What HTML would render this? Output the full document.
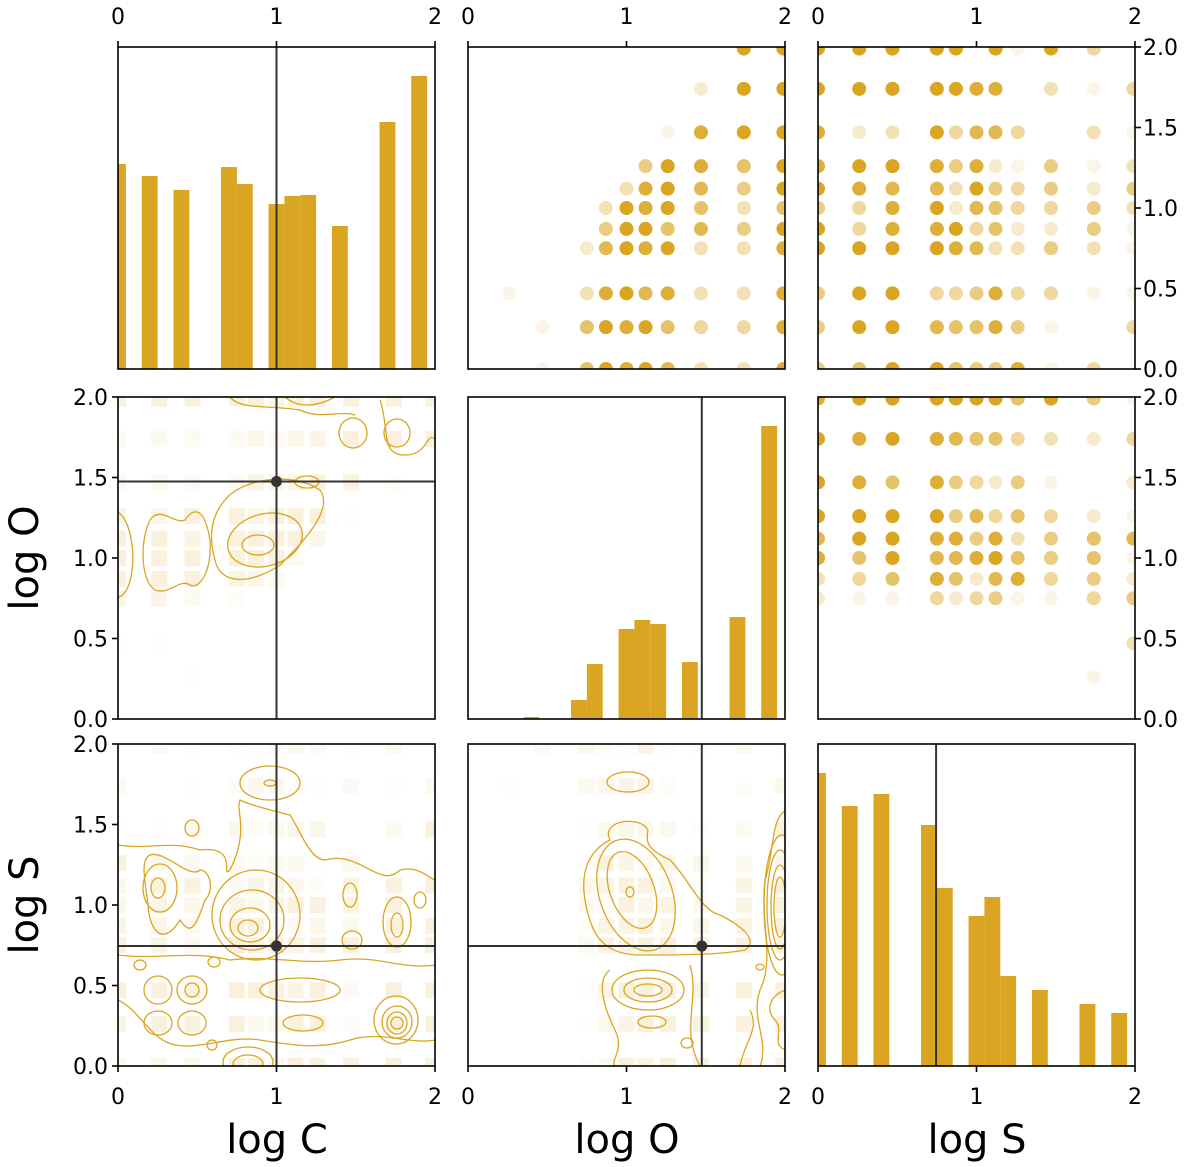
<!DOCTYPE html>
<html><head><meta charset="utf-8">
<style>
html,body{margin:0;padding:0;background:#fff;}
svg{display:block;font-family:"DejaVu Sans","Liberation Sans",sans-serif;}
</style></head>
<body>
<svg id="chart" width="1200" height="1167" viewBox="0 0 1200 1167" xmlns="http://www.w3.org/2000/svg">
<defs>
  <clipPath id="clip-contour">
    <rect x="118" y="397" width="317" height="322"/>
    <rect x="118" y="744" width="317" height="322"/>
    <rect x="468" y="744" width="317" height="322"/>
  </clipPath>
</defs>
<g id="layer-heat"></g>
<g id="layer-contour" fill="none" stroke="#DAA520" stroke-width="1.3" clip-path="url(#clip-contour)">
  <ellipse cx="258" cy="545" rx="16" ry="10"/>
  <ellipse cx="265" cy="540" rx="38" ry="26" transform="rotate(-15 265 540)"/>
  <path d="M225,500 C240,480 290,470 320,490 C335,510 300,545 280,565 C250,585 220,585 215,560 C208,535 212,515 225,500 Z"/>
  <path d="M150,520 C160,505 175,525 185,520 C195,505 205,510 210,540 C212,570 200,590 190,585 C180,578 170,595 155,590 C140,580 140,540 150,520 Z"/>
  <path d="M118,512 C130,520 135,550 132,570 C130,590 122,597 118,597"/>
  <ellipse cx="307" cy="482" rx="12" ry="6"/>
  <path d="M230,397 C240,410 270,405 300,410 C320,420 340,410 355,415"/>
  <path d="M285,397 C300,410 320,405 335,397"/>
  <ellipse cx="353" cy="433" rx="14" ry="15"/>
  <ellipse cx="397" cy="433" rx="13" ry="14"/>
  <path d="M380,400 C390,430 380,455 405,455 C430,455 425,430 436,440"/>
  <ellipse cx="248" cy="928" rx="10" ry="8"/>
  <ellipse cx="250" cy="925" rx="20" ry="17"/>
  <ellipse cx="252" cy="920" rx="32" ry="30"/>
  <ellipse cx="256" cy="915" rx="44" ry="45"/>
  <ellipse cx="158" cy="888" rx="7" ry="10"/>
  <ellipse cx="160" cy="888" rx="17" ry="24"/>
  <path d="M150,855 C165,850 190,880 200,870 C210,870 215,890 205,900 C195,930 190,935 180,920 C165,945 150,935 148,905 C145,880 140,860 150,855 Z"/>
  <path d="M118,845 C150,850 170,840 200,850 C240,845 220,880 230,870 C250,830 235,810 240,800 C250,805 270,810 290,815 C300,830 310,860 325,860 C360,850 380,890 400,870 C420,865 430,880 436,880"/>
  <ellipse cx="397" cy="925" rx="6" ry="12"/>
  <ellipse cx="397" cy="922" rx="14" ry="25"/>
  <ellipse cx="397" cy="1023" rx="6" ry="6"/>
  <ellipse cx="397" cy="1023" rx="10" ry="11"/>
  <ellipse cx="397" cy="1022" rx="15" ry="16"/>
  <ellipse cx="396" cy="1020" rx="22" ry="24"/>
  <ellipse cx="270" cy="783" rx="30" ry="17"/>
  <ellipse cx="270" cy="783" rx="6" ry="3"/>
  <ellipse cx="192" cy="828" rx="7" ry="8"/>
  <ellipse cx="192" cy="990" rx="7" ry="7"/>
  <ellipse cx="192" cy="990" rx="15" ry="14"/>
  <ellipse cx="158" cy="990" rx="14" ry="14"/>
  <ellipse cx="158" cy="1023" rx="14" ry="12"/>
  <ellipse cx="192" cy="1023" rx="14" ry="12"/>
  <ellipse cx="248" cy="1062" rx="25" ry="15"/>
  <ellipse cx="248" cy="1064" rx="15" ry="9"/>
  <ellipse cx="300" cy="990" rx="40" ry="12"/>
  <ellipse cx="303" cy="1023" rx="20" ry="8"/>
  <ellipse cx="350" cy="895" rx="7" ry="12"/>
  <ellipse cx="352" cy="940" rx="10" ry="9"/>
  <ellipse cx="420" cy="900" rx="6" ry="8"/>
  <ellipse cx="140" cy="965" rx="6" ry="5"/>
  <ellipse cx="214" cy="962" rx="6" ry="5"/>
  <ellipse cx="212" cy="1045" rx="5" ry="5"/>
  <path d="M118,1000 C140,1010 150,1040 175,1045 C200,1050 230,1035 260,1040 C290,1045 320,1050 350,1040 C380,1030 410,1045 436,1040"/>
  <path d="M118,955 C160,960 190,950 230,960 C270,955 300,965 340,960 C380,955 400,970 436,965"/>
  <ellipse cx="628" cy="782" rx="21" ry="10"/>
  <ellipse cx="630" cy="892" rx="4" ry="5"/>
  <ellipse cx="632" cy="890" rx="22" ry="40" transform="rotate(-20 632 890)"/>
  <ellipse cx="636" cy="895" rx="36" ry="58" transform="rotate(-20 636 895)"/>
  <path d="M610,840 C600,820 640,815 648,830 C645,845 650,850 670,860 C690,880 700,910 720,915 C740,925 760,940 745,950 C720,955 680,955 640,955 C600,955 590,930 585,900 C580,870 590,850 610,840 Z"/>
  <ellipse cx="648" cy="990" rx="14" ry="6"/>
  <ellipse cx="648" cy="990" rx="24" ry="12"/>
  <ellipse cx="648" cy="990" rx="36" ry="20"/>
  <ellipse cx="652" cy="1022" rx="14" ry="6"/>
  <path d="M610,970 C595,980 605,1010 615,1030 C625,1050 610,1060 615,1066"/>
  <path d="M690,965 C700,1000 680,1030 700,1066"/>
  <ellipse cx="687" cy="1043" rx="6" ry="5"/>
  <ellipse cx="760" cy="967" rx="4" ry="3"/>
  <ellipse cx="780" cy="907" rx="6" ry="30"/>
  <ellipse cx="780" cy="907" rx="9" ry="42"/>
  <ellipse cx="780" cy="905" rx="13" ry="55"/>
  <ellipse cx="782" cy="905" rx="18" ry="70"/>
  <path d="M786,810 C770,820 775,850 765,880 C760,920 775,960 760,990 C750,1020 770,1040 760,1066"/>
  <path d="M786,990 C770,995 765,1010 775,1020 C785,1030 770,1045 786,1050"/>
  <path d="M740,1066 C745,1040 760,1030 750,1010"/>
</g>
<g id="layer-marks"></g>
<g id="layer-axes"></g>
</svg>
<script>
// ---- data ----
const gridVals = [0, 0.26, 0.47, 0.75, 0.87, 1.0, 1.12, 1.26, 1.47, 1.74, 1.99];
const scatterOvsC = ["00000000099","00000000299","00000001899","00000059869","00000389759","00003989636","00005996759","00027989338","01038978338","00169896448","00169897338"];
const scatterSvsC = ["99999091940","99999880314","82394774031","89985821513","98773954525","54892764453","94889462251","99998733531","59944584411","59976685104","56996558140"];
const scatterSvsO = ["89999996951","98987664324","98685425102","99995746421","79988583567","86977896561","34686278452","21142451145","00000000003","00000000010","00000000000"];
const histCLeft = [0, 0.15, 0.35, 0.65, 0.75, 0.95, 1.05, 1.15, 1.35, 1.65, 1.85];
const histCWidth = [0.05, 0.1, 0.1, 0.1, 0.1, 0.1, 0.1, 0.1, 0.1, 0.1, 0.1];
const histCCount = [205, 193, 179, 202, 185, 165, 173, 174, 143, 247, 293];
const histOLeft = [0.35, 0.65, 0.75, 0.95, 1.05, 1.15, 1.35, 1.65, 1.85];
const histOWidth = [0.1, 0.1, 0.1, 0.1, 0.1, 0.1, 0.1, 0.1, 0.1];
const histOCount = [2, 19, 55, 90, 99, 95, 57, 102, 293];
const histSLeft = [0, 0.15, 0.35, 0.65, 0.75, 0.95, 1.05, 1.15, 1.35, 1.65, 1.85];
const histSWidth = [0.05, 0.1, 0.1, 0.1, 0.1, 0.1, 0.1, 0.1, 0.1, 0.1, 0.1];
const histSCount = [293, 260, 272, 241, 178, 150, 169, 90, 76, 62, 53];
const histMax = 322;
const bestC = 1.0, bestO = 1.475, bestS = 0.745;
const xTicks = [0, 1, 2];
const yTicks = [0, 0.5, 1.0, 1.5, 2.0];
const yTickLabels = ["0.0", "0.5", "1.0", "1.5", "2.0"];

// ---- layout ----
const NS = "http://www.w3.org/2000/svg";
const colX = [118, 468, 818], rowY = [47, 397, 744], PW = 317, PH = 322;
const COLOR = "#DAA520";
function sx(c, v) { return colX[c] + v / 2 * PW; }
function sy(r, v) { return rowY[r] + PH - v / 2 * PH; }
function mk(tag, attrs, parent) {
  const e = document.createElementNS(NS, tag);
  for (const k in attrs) e.setAttribute(k, attrs[k]);
  parent.appendChild(e);
  return e;
}
const svg = document.getElementById('chart');
const defs = svg.querySelector('defs');
const heat = document.getElementById('layer-heat');
const marks = document.getElementById('layer-marks');
const axes = document.getElementById('layer-axes');

function panelGroup(parent, r, c) {
  const id = 'clip-' + parent.id + '-' + r + '-' + c;
  const cp = mk('clipPath', {id: id}, defs);
  mk('rect', {x: colX[c], y: rowY[r], width: PW, height: PH}, cp);
  const g = mk('g', {'clip-path': 'url(#' + id + ')'}, parent);
  
  
  return g;
}

function scatter(r, c, mat, name) {
  const g = panelGroup(marks, r, c);
  mat.forEach((row, ri) => {
    const yi = gridVals.length - 1 - ri;
    for (let xi = 0; xi < row.length; xi++) {
      const d = +row[xi];
      if (!d) continue;
      const e = mk('circle', {cx: sx(c, gridVals[xi]), cy: sy(r, gridVals[yi]), r: 7, fill: COLOR, 'fill-opacity': (d / 9).toFixed(2)}, g);
      
      
    }
  });
}
function heatCells(r, c, mat, name) {
  const g = panelGroup(heat, r, c);
  mat.forEach((row, ri) => {
    const yi = gridVals.length - 1 - ri;
    for (let xi = 0; xi < row.length; xi++) {
      const d = +row[xi];
      if (!d) continue;
      const cx = sx(c, gridVals[yi]), cy = sy(r, gridVals[xi]);
      const e = mk('rect', {x: cx - 8, y: cy - 8, width: 16, height: 16, fill: COLOR, 'fill-opacity': (d * 0.018).toFixed(3)}, g);
      
      
    }
  });
}
function hist(r, c, lefts, widths, counts, name) {
  lefts.forEach((l, i) => {
    const x0 = sx(c, l), x1 = sx(c, l + widths[i]);
    const h = counts[i] / histMax * PH;
    const e = mk('rect', {x: x0, y: rowY[r] + PH - h, width: x1 - x0, height: h, fill: COLOR}, marks);
    
    
  });
}
scatter(0, 1, scatterOvsC, 'logo-logc');
scatter(0, 2, scatterSvsC, 'logs-logc');
scatter(1, 2, scatterSvsO, 'logs-logo');
heatCells(1, 0, scatterOvsC, 'logc-logo-density');
heatCells(2, 0, scatterSvsC, 'logc-logs-density');
heatCells(2, 1, scatterSvsO, 'logo-logs-density');
hist(0, 0, histCLeft, histCWidth, histCCount, 'logc-hist');
hist(1, 1, histOLeft, histOWidth, histOCount, 'logo-hist');
hist(2, 2, histSLeft, histSWidth, histSCount, 'logs-hist');

function vline(r, c, v, name) {
  const e = mk('line', {x1: sx(c, v), x2: sx(c, v), y1: rowY[r], y2: rowY[r] + PH, stroke: '#333', 'stroke-width': 2}, axes);
  
  
}
function hline(r, c, v, name) {
  const e = mk('line', {x1: colX[c], x2: colX[c] + PW, y1: sy(r, v), y2: sy(r, v), stroke: '#333', 'stroke-width': 2}, axes);
  
  
}
function dot(r, c, vx, vy, name) {
  const e = mk('circle', {cx: sx(c, vx), cy: sy(r, vy), r: 5.5, fill: '#333'}, axes);
  
  
}
vline(0, 0, bestC, 'best-logc-line');
vline(1, 0, bestC, 'best-logc-line'); hline(1, 0, bestO, 'best-logo-line'); dot(1, 0, bestC, bestO, 'best-fit-point');
vline(1, 1, bestO, 'best-logo-line');
vline(2, 0, bestC, 'best-logc-line'); hline(2, 0, bestS, 'best-logs-line'); dot(2, 0, bestC, bestS, 'best-fit-point');
vline(2, 1, bestO, 'best-logo-line'); hline(2, 1, bestS, 'best-logs-line'); dot(2, 1, bestO, bestS, 'best-fit-point');
vline(2, 2, bestS, 'best-logs-line');

for (let r = 0; r < 3; r++) for (let c = 0; c < 3; c++) {
  const e = mk('rect', {x: colX[c], y: rowY[r], width: PW, height: PH, fill: 'none', stroke: '#000', 'stroke-width': 1.6}, axes);
  
  
}
function text(x, y, s, anchor, size, name, rot) {
  const e = mk('text', {x: x, y: y, 'text-anchor': anchor, 'font-size': size, fill: '#000'}, axes);
  if (rot) e.setAttribute('transform', 'rotate(-90 ' + x + ' ' + y + ')');
  e.textContent = s;
  
  
  return e;
}
function tickLine(x1, y1, x2, y2) {
  const e = mk('line', {x1: x1, y1: y1, x2: x2, y2: y2, stroke: '#000', 'stroke-width': 1.6}, axes);
  
  
}
for (let c = 0; c < 3; c++) xTicks.forEach(t => {
  tickLine(sx(c, t), rowY[0], sx(c, t), rowY[0] - 6);
  text(sx(c, t), 24, String(t), 'middle', 22, 'top-x-tick-label');
});
for (let c = 0; c < 3; c++) xTicks.forEach(t => {
  tickLine(sx(c, t), rowY[2] + PH, sx(c, t), rowY[2] + PH + 6);
  text(sx(c, t), 1104, String(t), 'middle', 22, 'bottom-x-tick-label');
});
[1, 2].forEach(r => yTicks.forEach((t, i) => {
  tickLine(colX[0], sy(r, t), colX[0] - 6, sy(r, t));
  text(colX[0] - 10, sy(r, t) + 8, yTickLabels[i], 'end', 22, 'left-y-tick-label');
}));
[0, 1].forEach(r => yTicks.forEach((t, i) => {
  tickLine(colX[2] + PW, sy(r, t), colX[2] + PW + 6, sy(r, t));
  text(colX[2] + PW + 8, sy(r, t) + 8, yTickLabels[i], 'start', 22, 'right-y-tick-label');
}));
text(277, 1153, 'log C', 'middle', 40, 'x-axis-title-logc');
text(627, 1153, 'log O', 'middle', 40, 'x-axis-title-logo');
text(977, 1153, 'log S', 'middle', 40, 'x-axis-title-logs');
text(38, 558, 'log O', 'middle', 40, 'y-axis-title-logo', true);
text(38, 905, 'log S', 'middle', 40, 'y-axis-title-logs', true);
</script>
</body></html>
